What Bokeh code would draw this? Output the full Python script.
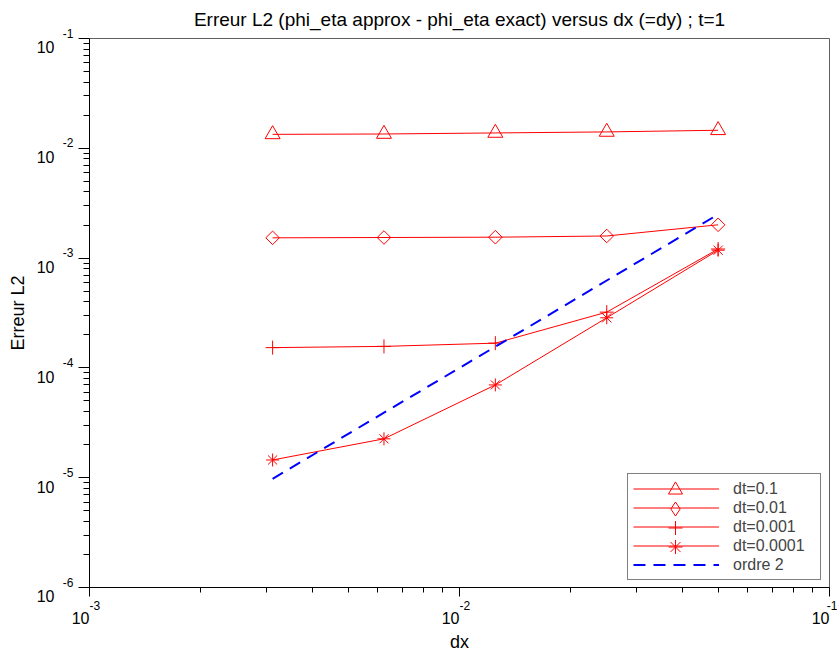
from bokeh.plotting import figure
from bokeh.models import (Range1d, FixedTicker, LogAxis, Legend, LegendItem, Title)
from bokeh.core.properties import value
from bokeh.embed import file_html
from bokeh.resources import INLINE

# ---------------- data ----------------
dx = [0.003125, 0.00625, 0.0125, 0.025, 0.05]
err_dt_0_1 = [0.0134, 0.0135, 0.0138, 0.0141, 0.0146]
err_dt_0_01 = [0.00153, 0.00154, 0.00155, 0.00159, 0.00201]
err_dt_0_001 = [0.000153, 0.000157, 0.000168, 0.000322, 0.00121]
err_dt_0_0001 = [0.0000145, 0.0000226, 0.0000700, 0.000286, 0.00118]
ordre_2 = [0.00000977, 0.0000391, 0.000156, 0.000625, 0.0025]
series_labels = ["dt=0.1", "dt=0.01", "dt=0.001", "dt=0.0001", "ordre 2"]
x_tick_exponents = [-3, -2, -1]
y_tick_exponents = [-6, -5, -4, -3, -2, -1]
title_text = "Erreur L2 (phi_eta approx - phi_eta exact) versus dx (=dy) ; t=1"

FONT = "Liberation Sans"
RED = "#ff0000"
BLUE = "#0000ff"

x_major = [10.0 ** e for e in x_tick_exponents]
y_major = [10.0 ** e for e in y_tick_exponents]
x_minor = [m * 10.0 ** e for e in x_tick_exponents[:-1] for m in range(2, 10)]
y_minor = [m * 10.0 ** e for e in y_tick_exponents[:-1] for m in range(2, 10)]

p = figure(width=837, height=657,
           x_axis_type="log", y_axis_type="log",
           x_range=Range1d(x_major[0], x_major[-1]),
           y_range=Range1d(y_major[0], y_major[-1]),
           output_backend="svg", toolbar_location=None, title=None,
           min_border_left=89, min_border_right=8,
           min_border_top=38, min_border_bottom=70)

p.xgrid.visible = False
p.ygrid.visible = False
p.outline_line_color = "#606060"
p.background_fill_color = "white"
p.border_fill_color = "white"

# the axes created by figure(): they carry the tick marks and the exponents
xin = p.below[0]
yin = p.left[0]


def style_text_axis(ax, size):
    ax.major_label_text_font = FONT
    ax.major_label_text_font_size = size
    ax.major_label_text_color = "black"
    ax.axis_label_text_font = FONT
    ax.axis_label_text_font_size = "18px"
    ax.axis_label_text_font_style = "normal"
    ax.axis_label_text_color = "black"


def bare_axis(ax):
    ax.axis_line_color = None
    ax.major_tick_line_color = None
    ax.minor_tick_line_color = None
    ax.major_tick_in = 0
    ax.minor_tick_in = 0
    ax.minor_tick_out = 0


# ---------------- inner axes: tick marks + exponents ----------------
xin.ticker = FixedTicker(ticks=x_major, minor_ticks=x_minor)
yin.ticker = FixedTicker(ticks=y_major, minor_ticks=y_minor)
for ax in (xin, yin):
    ax.major_tick_in = 0
    ax.minor_tick_in = 0
    ax.axis_line_color = "black"
    ax.major_tick_line_color = "black"
    ax.minor_tick_line_color = "black"
xin.major_tick_out = 9
xin.minor_tick_out = 5
yin.major_tick_out = 11
yin.minor_tick_out = 6

style_text_axis(xin, "12px")
xin.major_label_overrides = {t: str(e) for t, e in zip(x_major, x_tick_exponents)}
xin.major_label_orientation = -1e-6
xin.major_label_standoff = 9

style_text_axis(yin, "12px")
yin.major_label_overrides = {t: f"{e}\n" for t, e in zip(y_major, y_tick_exponents)}
yin.major_label_text_line_height = 0.7
yin.major_label_standoff = 5

# ---------------- outer axes: the "10" mantissas + axis titles ----------------
xout = LogAxis(ticker=FixedTicker(ticks=x_major, minor_ticks=[]))
yout = LogAxis(ticker=FixedTicker(ticks=y_major, minor_ticks=[]))
for ax in (xout, yout):
    bare_axis(ax)
    ax.major_tick_out = 0
    style_text_axis(ax, "16px")

xout.major_label_overrides = {t: "10" for t in x_major}
xout.major_label_orientation = 1e-6
xout.major_label_standoff = 0
xout.axis_label = "dx"
xout.axis_label_standoff = -1

yout.major_label_overrides = {t: "\n10" for t in y_major}
yout.major_label_text_line_height = 1.1
yout.major_label_standoff = 5
yout.axis_label = "Erreur L2"
yout.axis_label_standoff = 6

p.add_layout(xout, "below")
p.add_layout(yout, "left")

# ---------------- title ----------------
p.add_layout(Title(text=title_text, align="center", vertical_align="top",
                   text_font=FONT, text_font_size="19px",
                   text_font_style="normal", text_color="black",
                   standoff=13), "above")

# ---------------- series ----------------
l1 = p.line(dx, err_dt_0_1, line_color=RED, line_width=1)
m1 = p.scatter(dx, err_dt_0_1, marker="triangle", size=15, fill_color=None,
               line_color=RED, line_width=1)
l2 = p.line(dx, err_dt_0_01, line_color=RED, line_width=1)
m2 = p.scatter(dx, err_dt_0_01, marker="square", angle=0.7853981634, size=9.6,
               fill_color=None, line_color=RED, line_width=1)
m2_key = p.scatter(dx, err_dt_0_01, marker="diamond", size=14, fill_color=None,
                   line_color=RED, line_width=1, visible=False)
l3 = p.line(dx, err_dt_0_001, line_color=RED, line_width=1)
m3 = p.scatter(dx, err_dt_0_001, marker="cross", size=14, line_color=RED,
               line_width=1)
l4 = p.line(dx, err_dt_0_0001, line_color=RED, line_width=1)
m4 = p.scatter(dx, err_dt_0_0001, marker="asterisk", size=13, line_color=RED,
               line_width=1)
l5 = p.line(dx, ordre_2, line_color=BLUE, line_width=2, line_dash="12 8")

# ---------------- legend ----------------
# main legend: box, lines and labels
LEG_X, LEG_Y, LEG_PAD, ROW_H = 538, 7, 5, 19
GLYPH_W = 86
line_renderers = [l1, l2, l3, l4, l5]
legend = Legend(items=[LegendItem(label=lab, renderers=[r])
                       for lab, r in zip(series_labels, line_renderers)],
                location=(LEG_X, LEG_Y), margin=0, padding=LEG_PAD, spacing=0,
                glyph_width=GLYPH_W, glyph_height=ROW_H, label_height=ROW_H,
                label_width=82, label_standoff=14,
                label_text_font=FONT, label_text_font_size="16px",
                border_line_color="black", border_line_width=1,
                background_fill_color="white", background_fill_alpha=1.0)
p.add_layout(legend)

# overlay keys: full-size markers centred on each legend row
KEY_H = 35
marker_renderers = [m1, m2_key, m3, m4]
n_rows = len(series_labels)
for i, mr in enumerate(marker_renderers):
    row_center_from_bottom = LEG_Y + LEG_PAD + (n_rows - 1 - i) * ROW_H + ROW_H / 2
    key = Legend(items=[LegendItem(label=value(""), renderers=[mr])],
                 location=(LEG_X + LEG_PAD, round(row_center_from_bottom - KEY_H / 2)),
                 margin=0, padding=0, spacing=0,
                 glyph_width=GLYPH_W, glyph_height=KEY_H, label_height=KEY_H,
                 label_width=0, label_standoff=0,
                 border_line_color=None, background_fill_alpha=0.0)
    p.add_layout(key)

open("out.html", "w").write(file_html(p, INLINE))
